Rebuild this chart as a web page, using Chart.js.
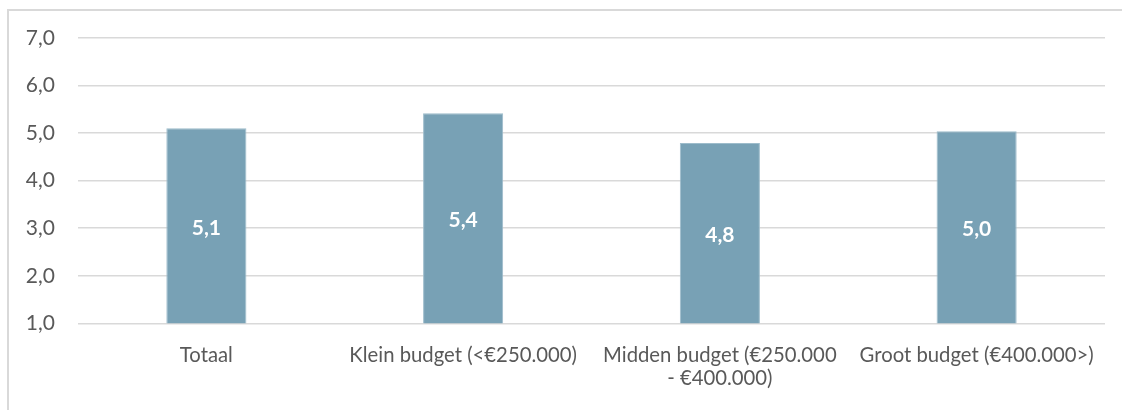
<!DOCTYPE html>
<html>
<head>
<meta charset="utf-8">
<script src="https://cdn.jsdelivr.net/npm/chart.js@4.4.1/dist/chart.umd.min.js"></script>
<style>
  html, body { margin: 0; padding: 0; background: #ffffff; overflow: hidden; }
  #wrap { position: relative; width: 1122px; height: 410px; overflow: hidden; background: #fff; }
  #frame { position: absolute; left: 7px; top: 9px; width: 1300px; height: 600px;
           border-left: 2px solid #d9d9d9; border-top: 2px solid #d9d9d9; box-sizing: border-box; }
  canvas { position: absolute; left: 0; top: 0; }
</style>
</head>
<body>
<div id="wrap">
  <div id="frame"></div>
  <canvas id="c" width="1122" height="410"></canvas>
</div>
<script>
// ---- data ----
const categories = [
  'Totaal',
  'Klein budget (<€250.000)',
  ['Midden budget (€250.000', '- €400.000)'],
  'Groot budget (€400.000>)'
];
const values = [5.1, 5.42, 4.79, 5.04];
const yMin = 1;
const yMax = 7;
const yStep = 1;

const FONT = 'Lato, "Open Sans", "Liberation Sans", sans-serif';
const fmt = v => Number(v).toFixed(1).replace('.', ',');

const barLabels = {
  id: 'barLabels',
  afterDatasetsDraw(chart) {
    const ctx = chart.ctx;
    const meta = chart.getDatasetMeta(0);
    const bottom = chart.chartArea.bottom;
    ctx.save();
    ctx.font = 'bold 21px ' + FONT;
    ctx.fillStyle = '#ffffff';
    ctx.textAlign = 'center';
    ctx.textBaseline = 'middle';
    meta.data.forEach((el, i) => {
      const p = el.getProps(['x', 'y', 'base'], true);
      const base = Math.min(p.base, bottom);
      ctx.fillText(fmt(values[i]), p.x, (p.y + base) / 2 + 2);
    });
    ctx.restore();
  }
};

new Chart(document.getElementById('c'), {
  type: 'bar',
  data: {
    labels: categories,
    datasets: [{
      data: values,
      backgroundColor: '#78a1b5',
      borderColor: '#9dbccb',
      borderWidth: 1,
      barPercentage: 0.312,
      categoryPercentage: 1.0
    }]
  },
  options: {
    responsive: false,
    animation: false,
    events: [],
    layout: { padding: { left: 0, right: 17, top: 38, bottom: 0 } },
    plugins: { legend: { display: false }, tooltip: { enabled: false }, title: { display: false } },
    scales: {
      y: {
        min: yMin, max: yMax,
        ticks: {
          stepSize: yStep,
          callback: v => fmt(v),
          color: '#595959',
          font: { family: FONT, size: 21 },
          padding: 23
        },
        grid: { color: '#d9d9d9', lineWidth: 1.5, drawTicks: false },
        border: { display: false },
        afterFit(scale) { scale.width = 78; }
      },
      x: {
        ticks: {
          color: '#595959',
          font: { family: FONT, size: 20.3, lineHeight: 1.15 },
          padding: 20,
          autoSkip: false,
          maxRotation: 0,
          minRotation: 0
        },
        grid: { display: false, drawTicks: false },
        border: { display: false },
        afterFit(scale) { scale.height = 86.7; }
      }
    }
  },
  plugins: [barLabels]
});
</script>
</body>
</html>
